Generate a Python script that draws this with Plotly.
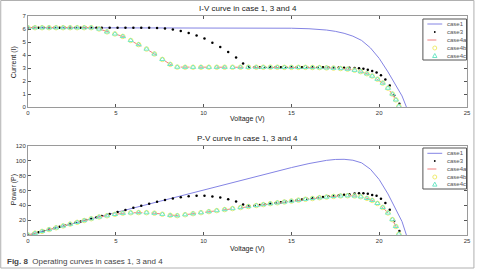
import plotly.graph_objects as go

# ---- case 1 (uniform irradiance) ----
v1 = [0, 2, 4, 6, 8, 10, 12, 13, 14, 15, 16, 16.5, 17, 17.5, 18, 18.5, 19, 19.5, 20, 20.5, 21, 21.3, 21.55]
i1 = [6.1, 6.1, 6.1, 6.1, 6.1, 6.1, 6.1, 6.09, 6.08, 6.06, 6.02, 5.98, 5.92, 5.82, 5.67, 5.45, 5.12, 4.55, 3.74, 2.7, 1.56, 0.85, 0]
p1 = [0, 12.2, 24.4, 36.6, 48.8, 61, 73.2, 79.17, 85.12, 90.9, 96.32, 98.67, 100.64, 101.85, 102.06, 100.83, 97.28, 88.73, 74.8, 55.35, 32.76, 18.11, 0]

# ---- case 3 ----
v3 = [0, 0.3, 0.6, 0.9, 1.2, 1.5, 1.8, 2.1, 2.4, 2.7, 3.0, 3.3, 3.6, 3.9, 4.2,
      4.65, 5.1, 5.55, 6.0, 6.45, 6.9, 7.35, 7.8, 8.25, 8.7, 9.15, 9.6, 10.05, 10.5,
      10.95, 11.4, 11.85, 12.25, 12.6,
      12.9, 13.2, 13.5, 13.8, 14.1, 14.4, 14.7, 15.0, 15.3, 15.6, 15.9, 16.2, 16.5,
      16.8, 17.1, 17.4, 17.7, 18.0, 18.3, 18.6,
      18.85, 19.1, 19.35, 19.6, 19.85, 20.1, 20.35, 20.6, 20.85, 21.15]
i3 = [6.1, 6.1, 6.1, 6.1, 6.1, 6.1, 6.1, 6.1, 6.1, 6.1, 6.1, 6.1, 6.1, 6.1, 6.1,
      6.1, 6.1, 6.1, 6.1, 6.1, 6.1, 6.08, 6.04, 5.96, 5.85, 5.7, 5.5, 5.26, 4.95,
      4.62, 4.24, 3.8, 3.35, 3.1,
      3.06, 3.06, 3.06, 3.06, 3.06, 3.06, 3.06, 3.06, 3.06, 3.06, 3.05, 3.05, 3.05,
      3.05, 3.05, 3.04, 3.03, 3.02, 3.01, 3.0,
      2.98, 2.94, 2.87, 2.76, 2.66, 2.44, 2.12, 1.65, 0.9, 0.25]
p3 = [0, 1.83, 3.66, 5.49, 7.32, 9.15, 10.98, 12.81, 14.64, 16.47, 18.3, 20.13, 21.96, 23.79, 25.62,
      28.37, 31.11, 33.86, 36.6, 39.35, 42.09, 44.69, 47.11, 49.17, 50.9, 52.16, 52.8, 52.86, 51.98,
      50.59, 48.34, 45.03, 41.04, 39.06,
      39.47, 40.39, 41.31, 42.23, 43.15, 44.06, 44.98, 45.9, 46.82, 47.74, 48.5, 49.41, 50.33,
      51.24, 52.16, 52.9, 53.63, 54.36, 55.08, 55.8,
      56.17, 56.15, 55.53, 54.1, 52.8, 49.04, 43.14, 33.99, 18.77, 5.29]

# ---- case 4 (a, b, c) ----
v4 = [0, 0.4, 0.8, 1.2, 1.6, 2.0, 2.4, 2.8, 3.2, 3.6,
      4.05, 4.5, 4.95, 5.4, 5.85, 6.3, 6.75, 7.2, 7.65, 8.1, 8.5,
      8.95, 9.4, 9.85, 10.3, 10.75, 11.2, 11.65, 12.1, 12.55, 13.0, 13.4, 13.8, 14.2,
      14.6, 15.0, 15.4, 15.8, 16.2, 16.6, 17.0, 17.4, 17.8,
      18.2, 18.6, 18.95, 19.3, 19.6, 19.9, 20.2, 20.5, 20.75, 20.95, 21.12]
i4 = [6.1, 6.1, 6.1, 6.1, 6.1, 6.1, 6.1, 6.1, 6.1, 6.1,
      6.0, 5.78, 5.62, 5.43, 5.12, 4.8, 4.46, 4.08, 3.66, 3.28, 3.07,
      3.06, 3.06, 3.06, 3.06, 3.06, 3.06, 3.06, 3.06, 3.06, 3.06, 3.06, 3.06, 3.06,
      3.05, 3.05, 3.05, 3.05, 3.04, 3.03, 3.01, 2.99, 2.96,
      2.91, 2.83, 2.72, 2.56, 2.38, 2.14, 1.84, 1.45, 1.0, 0.55, 0.05]
p4 = [0, 2.44, 4.88, 7.32, 9.76, 12.2, 14.64, 17.08, 19.52, 21.96,
      24.3, 26.01, 27.82, 29.32, 29.95, 30.24, 30.11, 29.38, 28.0, 26.57, 26.1,
      27.39, 28.76, 30.14, 31.52, 32.9, 34.27, 35.65, 37.03, 38.4, 39.78, 41.0, 42.23, 43.45,
      44.53, 45.75, 46.97, 48.19, 49.25, 50.3, 51.17, 52.03, 52.69,
      52.96, 52.64, 51.54, 49.41, 46.65, 42.59, 37.17, 29.73, 20.75, 11.52, 1.06]

series_names = ["case1", "case3", "case4a", "case4b", "case4c"]
x_ticks = [0, 5, 10, 15, 20, 25]
i_ticks = [0, 1, 2, 3, 4, 5, 6, 7]
p_ticks = [0, 20, 40, 60, 80, 100, 120]

C1, C3, C4A, C4B, C4C = "#8484e4", "#000000", "#f08080", "#f0ec70", "#70e8c8"

FONT = "Liberation Sans"
W, H = 480, 270
ML, MR, MT, MB = 28, 9, 16, 35
PW, PH = W - ML - MR, H - MT - MB


def py(pix):
    return (H - MB - pix) / PH


def px(pix):
    return (pix - ML) / PW


fig = go.Figure()


def add_traces(xa, ya, ivals):
    y1, y3, y4 = ivals
    fig.add_trace(go.Scatter(x=v1, y=y1, name="case1", mode="lines",
                             line=dict(color=C1, width=1), xaxis=xa, yaxis=ya))
    fig.add_trace(go.Scatter(x=v3, y=y3, name="case3", mode="markers",
                             marker=dict(color=C3, size=2.5), xaxis=xa, yaxis=ya))
    fig.add_trace(go.Scatter(x=v4, y=y4, name="case4a", mode="lines",
                             line=dict(color=C4A, width=1, dash="dash"), xaxis=xa, yaxis=ya))
    fig.add_trace(go.Scatter(x=v4, y=y4, name="case4b", mode="markers",
                             marker=dict(color=C4B, size=4.5, symbol="circle-open", line=dict(width=1)),
                             xaxis=xa, yaxis=ya))
    fig.add_trace(go.Scatter(x=v4, y=y4, name="case4c", mode="markers",
                             marker=dict(color=C4C, size=4.5, symbol="triangle-up-open", line=dict(width=1)),
                             xaxis=xa, yaxis=ya))


add_traces("x", "y", (i1, i3, i4))
add_traces("x2", "y2", (p1, p3, p4))

axis_common = dict(showline=True, linecolor="#9a9a9a", linewidth=1, mirror="ticks", ticks="inside",
                   ticklen=3, tickcolor="#555", showgrid=False, zeroline=False,
                   tickfont=dict(family=FONT, size=6, color="#333"))

fig.update_layout(
    width=W, height=H, margin=dict(l=ML, r=MR, t=MT, b=MB),
    paper_bgcolor="white", plot_bgcolor="white", showlegend=False,
    xaxis=dict(domain=[0, 1], anchor="y", range=[0, 25], tickvals=x_ticks, **axis_common),
    yaxis=dict(domain=[py(107), 1], anchor="x", range=[0, 7], tickvals=i_ticks, **axis_common),
    xaxis2=dict(domain=[0, 1], anchor="y2", range=[0, 25], tickvals=x_ticks, **axis_common),
    yaxis2=dict(domain=[0, py(146)], anchor="x2", range=[0, 120], tickvals=p_ticks, **axis_common),
)


def draw_legend(top, rows):
    fig.add_shape(type="rect", xref="paper", yref="paper", x0=px(426.5), x1=px(470.5),
                  y0=py(top + 41), y1=py(top), line=dict(color="#555", width=1), fillcolor="white")
    for k, name in enumerate(series_names):
        yc = rows[k]
        if name in ("case1", "case4a"):
            fig.add_shape(type="line", xref="paper", yref="paper", x0=px(431), x1=px(446),
                          y0=py(yc), y1=py(yc),
                          line=dict(color=C1 if name == "case1" else C4A, width=1,
                                    dash="solid" if name == "case1" else "dash"))
        elif name == "case3":
            fig.add_shape(type="circle", xref="paper", yref="paper", x0=px(437.6), x1=px(439.4),
                          y0=py(yc + 0.9), y1=py(yc - 0.9), line=dict(color=C3, width=0), fillcolor=C3)
        elif name == "case4b":
            fig.add_shape(type="circle", xref="paper", yref="paper", x0=px(436.5), x1=px(440.5),
                          y0=py(yc + 2), y1=py(yc - 2), line=dict(color=C4B, width=1))
        else:
            path = "M {:.5f} {:.5f} L {:.5f} {:.5f} L {:.5f} {:.5f} Z".format(
                px(436.3), py(yc + 1.8), px(440.7), py(yc + 1.8), px(438.5), py(yc - 2.2))
            fig.add_shape(type="path", xref="paper", yref="paper", path=path,
                          line=dict(color=C4C, width=1))
        fig.add_annotation(text=name, x=px(449), y=py(yc), xref="paper", yref="paper",
                           showarrow=False, xanchor="left", yanchor="middle",
                           font=dict(family=FONT, size=6, color="#555"))


draw_legend(19, [24, 32, 40, 48, 55.7])
draw_legend(148, [153.3, 161, 169, 177, 184.3])

ann = [
    dict(text="I-V curve in case 1, 3 and 4", x=0.5, y=py(9), size=8),
    dict(text="P-V curve in case 1, 3 and 4", x=0.5, y=py(138), size=8),
    dict(text="Voltage (V)", x=0.5, y=py(119), size=7),
    dict(text="Voltage (V)", x=0.5, y=py(249), size=7),
]
for a in ann:
    fig.add_annotation(text=a["text"], x=a["x"], y=a["y"], xref="paper", yref="paper",
                       showarrow=False, xanchor="center", yanchor="middle",
                       font=dict(family=FONT, size=a["size"], color="#222"))
for txt, ypix in [("Current (I)", 62), ("Power (P)", 190)]:
    fig.add_annotation(text=txt, x=px(14), y=py(ypix), xref="paper", yref="paper", showarrow=False,
                       textangle=-90, xanchor="center", yanchor="middle",
                       font=dict(family=FONT, size=7, color="#222"))
fig.add_annotation(text="<b>Fig. 8</b>  Operating curves in cases 1, 3 and 4", x=px(5), y=py(261),
                   xref="paper", yref="paper", showarrow=False, xanchor="left", yanchor="middle",
                   font=dict(family=FONT, size=8, color="#444"))
fig.add_shape(type="rect", xref="paper", yref="paper", x0=px(0.5), x1=px(478), y0=py(268), y1=py(0.5),
              line=dict(color="#b0b0b0", width=1), layer="below")

fig.write_html("out.html")
